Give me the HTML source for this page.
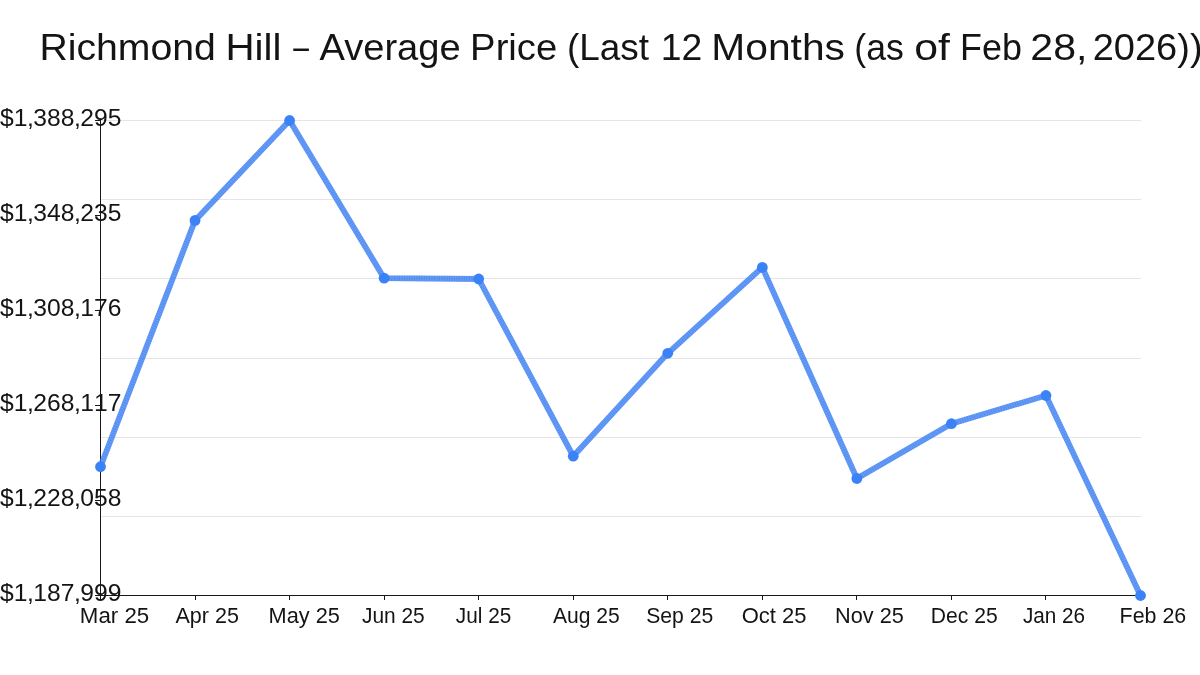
<!DOCTYPE html>
<html lang="en"><head><meta charset="utf-8"><title>Richmond Hill – Average Price</title>
<style>
html,body{margin:0;padding:0;background:#fff;}
body{width:1200px;height:675px;overflow:hidden;}
svg{display:block;}
text{font-family:"Liberation Sans",sans-serif;fill:#141414;}
.t{font-size:36px;}
.yl{font-size:24px;}
.xl{font-size:21.6px;}
</style></head><body>
<svg width="1200" height="675" viewBox="0 0 1200 675">
<rect width="1200" height="675" fill="#fff"/>
<text class="t" y="59.70"><tspan x="39.40" textLength="176.52" lengthAdjust="spacingAndGlyphs">Richmond</tspan> <tspan x="225.44" textLength="55.96" lengthAdjust="spacingAndGlyphs">Hill</tspan> <tspan x="293.25" dy="-0.7" textLength="15.67" lengthAdjust="spacingAndGlyphs">–</tspan> <tspan x="319.45" dy="0.7" textLength="141.20" lengthAdjust="spacingAndGlyphs">Average</tspan> <tspan x="470.14" textLength="87.15" lengthAdjust="spacingAndGlyphs">Price</tspan> <tspan x="566.97" textLength="82.16" lengthAdjust="spacingAndGlyphs">(Last</tspan> <tspan x="660.81" textLength="41.55" lengthAdjust="spacingAndGlyphs">12</tspan> <tspan x="711.35" textLength="133.65" lengthAdjust="spacingAndGlyphs">Months</tspan> <tspan x="854.32" textLength="49.48" lengthAdjust="spacingAndGlyphs">(as</tspan> <tspan x="914.28" textLength="35.64" lengthAdjust="spacingAndGlyphs">of</tspan> <tspan x="960.07" textLength="61.83" lengthAdjust="spacingAndGlyphs">Feb</tspan> <tspan x="1030.36" textLength="57.10" lengthAdjust="spacingAndGlyphs">28,</tspan> <tspan x="1092.70" textLength="109.88" lengthAdjust="spacingAndGlyphs">2026))</tspan> </text>
<g stroke="#e5e5e5" stroke-width="1" fill="none"><line x1="101" y1="120.50" x2="1141" y2="120.50"/><line x1="101" y1="199.50" x2="1141" y2="199.50"/><line x1="101" y1="278.50" x2="1141" y2="278.50"/><line x1="101" y1="358.50" x2="1141" y2="358.50"/><line x1="101" y1="437.50" x2="1141" y2="437.50"/><line x1="101" y1="516.50" x2="1141" y2="516.50"/></g>
<g stroke="#181818" stroke-width="1" fill="none"><line x1="100.5" y1="120" x2="100.5" y2="600"/><line x1="95" y1="595.5" x2="1141" y2="595.5"/><line x1="95" y1="120.50" x2="100.5" y2="120.50"/><line x1="95" y1="215.50" x2="100.5" y2="215.50"/><line x1="95" y1="310.50" x2="100.5" y2="310.50"/><line x1="95" y1="405.50" x2="100.5" y2="405.50"/><line x1="95" y1="500.50" x2="100.5" y2="500.50"/><line x1="195.5" y1="595" x2="195.5" y2="600"/><line x1="289.5" y1="595" x2="289.5" y2="600"/><line x1="384.5" y1="595" x2="384.5" y2="600"/><line x1="478.5" y1="595" x2="478.5" y2="600"/><line x1="573.5" y1="595" x2="573.5" y2="600"/><line x1="667.5" y1="595" x2="667.5" y2="600"/><line x1="762.5" y1="595" x2="762.5" y2="600"/><line x1="856.5" y1="595" x2="856.5" y2="600"/><line x1="951.5" y1="595" x2="951.5" y2="600"/><line x1="1045.5" y1="595" x2="1045.5" y2="600"/><line x1="1140.5" y1="595" x2="1140.5" y2="600"/></g>
<text class="yl" transform="scale(1.028,1)" x="0.00 13.35 26.21 32.42 45.77 59.12 71.98 78.19 91.54 104.89" y="125.60">$1,388,295</text><text class="yl" transform="scale(1.028,1)" x="0.00 13.35 26.21 32.42 45.77 59.12 71.98 78.19 91.54 104.89" y="220.60">$1,348,235</text><text class="yl" transform="scale(1.028,1)" x="0.00 13.35 26.21 32.42 45.77 59.12 71.98 78.19 91.54 104.89" y="315.60">$1,308,176</text><text class="yl" transform="scale(1.028,1)" x="0.00 13.35 26.21 32.42 45.77 59.12 71.98 78.19 91.54 104.89" y="410.60">$1,268,117</text><text class="yl" transform="scale(1.028,1)" x="0.00 13.35 26.21 32.42 45.77 59.12 71.98 78.19 91.54 104.89" y="505.60">$1,228,058</text><text class="yl" transform="scale(1.028,1)" x="0.00 13.35 26.21 32.42 45.77 59.12 71.98 78.19 91.54 104.89" y="600.60">$1,187,999</text>
<text class="xl" x="79.87" y="623.00" textLength="69.35" lengthAdjust="spacingAndGlyphs">Mar 25</text><text class="xl" x="175.48" y="623.00" textLength="63.43" lengthAdjust="spacingAndGlyphs">Apr 25</text><text class="xl" x="268.58" y="623.00" textLength="71.27" lengthAdjust="spacingAndGlyphs">May 25</text><text class="xl" x="361.94" y="623.00" textLength="62.81" lengthAdjust="spacingAndGlyphs">Jun 25</text><text class="xl" x="455.85" y="623.00" textLength="55.45" lengthAdjust="spacingAndGlyphs">Jul 25</text><text class="xl" x="552.95" y="623.00" textLength="66.82" lengthAdjust="spacingAndGlyphs">Aug 25</text><text class="xl" x="646.26" y="623.00" textLength="67.02" lengthAdjust="spacingAndGlyphs">Sep 25</text><text class="xl" x="741.70" y="623.00" textLength="64.81" lengthAdjust="spacingAndGlyphs">Oct 25</text><text class="xl" x="835.11" y="623.00" textLength="68.74" lengthAdjust="spacingAndGlyphs">Nov 25</text><text class="xl" x="930.78" y="623.00" textLength="66.88" lengthAdjust="spacingAndGlyphs">Dec 25</text><text class="xl" x="1022.94" y="623.00" textLength="62.18" lengthAdjust="spacingAndGlyphs">Jan 26</text><text class="xl" x="1119.60" y="623.00" textLength="66.59" lengthAdjust="spacingAndGlyphs">Feb 26</text>
<path d="M100.50 466.70 L195.05 220.40 L289.59 120.50 L384.14 278.20 L478.68 279.00 L573.23 456.20 L667.77 353.30 L762.32 267.40 L856.86 478.50 L951.41 423.70 L1045.95 395.50 L1140.50 595.50" fill="none" stroke="#3b82f6" stroke-opacity="0.79" stroke-width="5.8" stroke-linejoin="round" stroke-linecap="round"/>
<path d="M100.50 466.70 L195.05 220.40 L289.59 120.50 L384.14 278.20 L478.68 279.00 L573.23 456.20 L667.77 353.30 L762.32 267.40 L856.86 478.50 L951.41 423.70 L1045.95 395.50 L1140.50 595.50" fill="none" stroke="#2a66d8" stroke-opacity="0.24" stroke-width="5.8" stroke-linejoin="round" stroke-linecap="butt" stroke-dasharray="1.1 1.4"/>
<g fill="#3b82f6"><circle cx="100.50" cy="466.70" r="5.4"/><circle cx="195.05" cy="220.40" r="5.4"/><circle cx="289.59" cy="120.50" r="5.4"/><circle cx="384.14" cy="278.20" r="5.4"/><circle cx="478.68" cy="279.00" r="5.4"/><circle cx="573.23" cy="456.20" r="5.4"/><circle cx="667.77" cy="353.30" r="5.4"/><circle cx="762.32" cy="267.40" r="5.4"/><circle cx="856.86" cy="478.50" r="5.4"/><circle cx="951.41" cy="423.70" r="5.4"/><circle cx="1045.95" cy="395.50" r="5.4"/><circle cx="1140.50" cy="595.50" r="5.4"/></g>
</svg>
</body></html>
